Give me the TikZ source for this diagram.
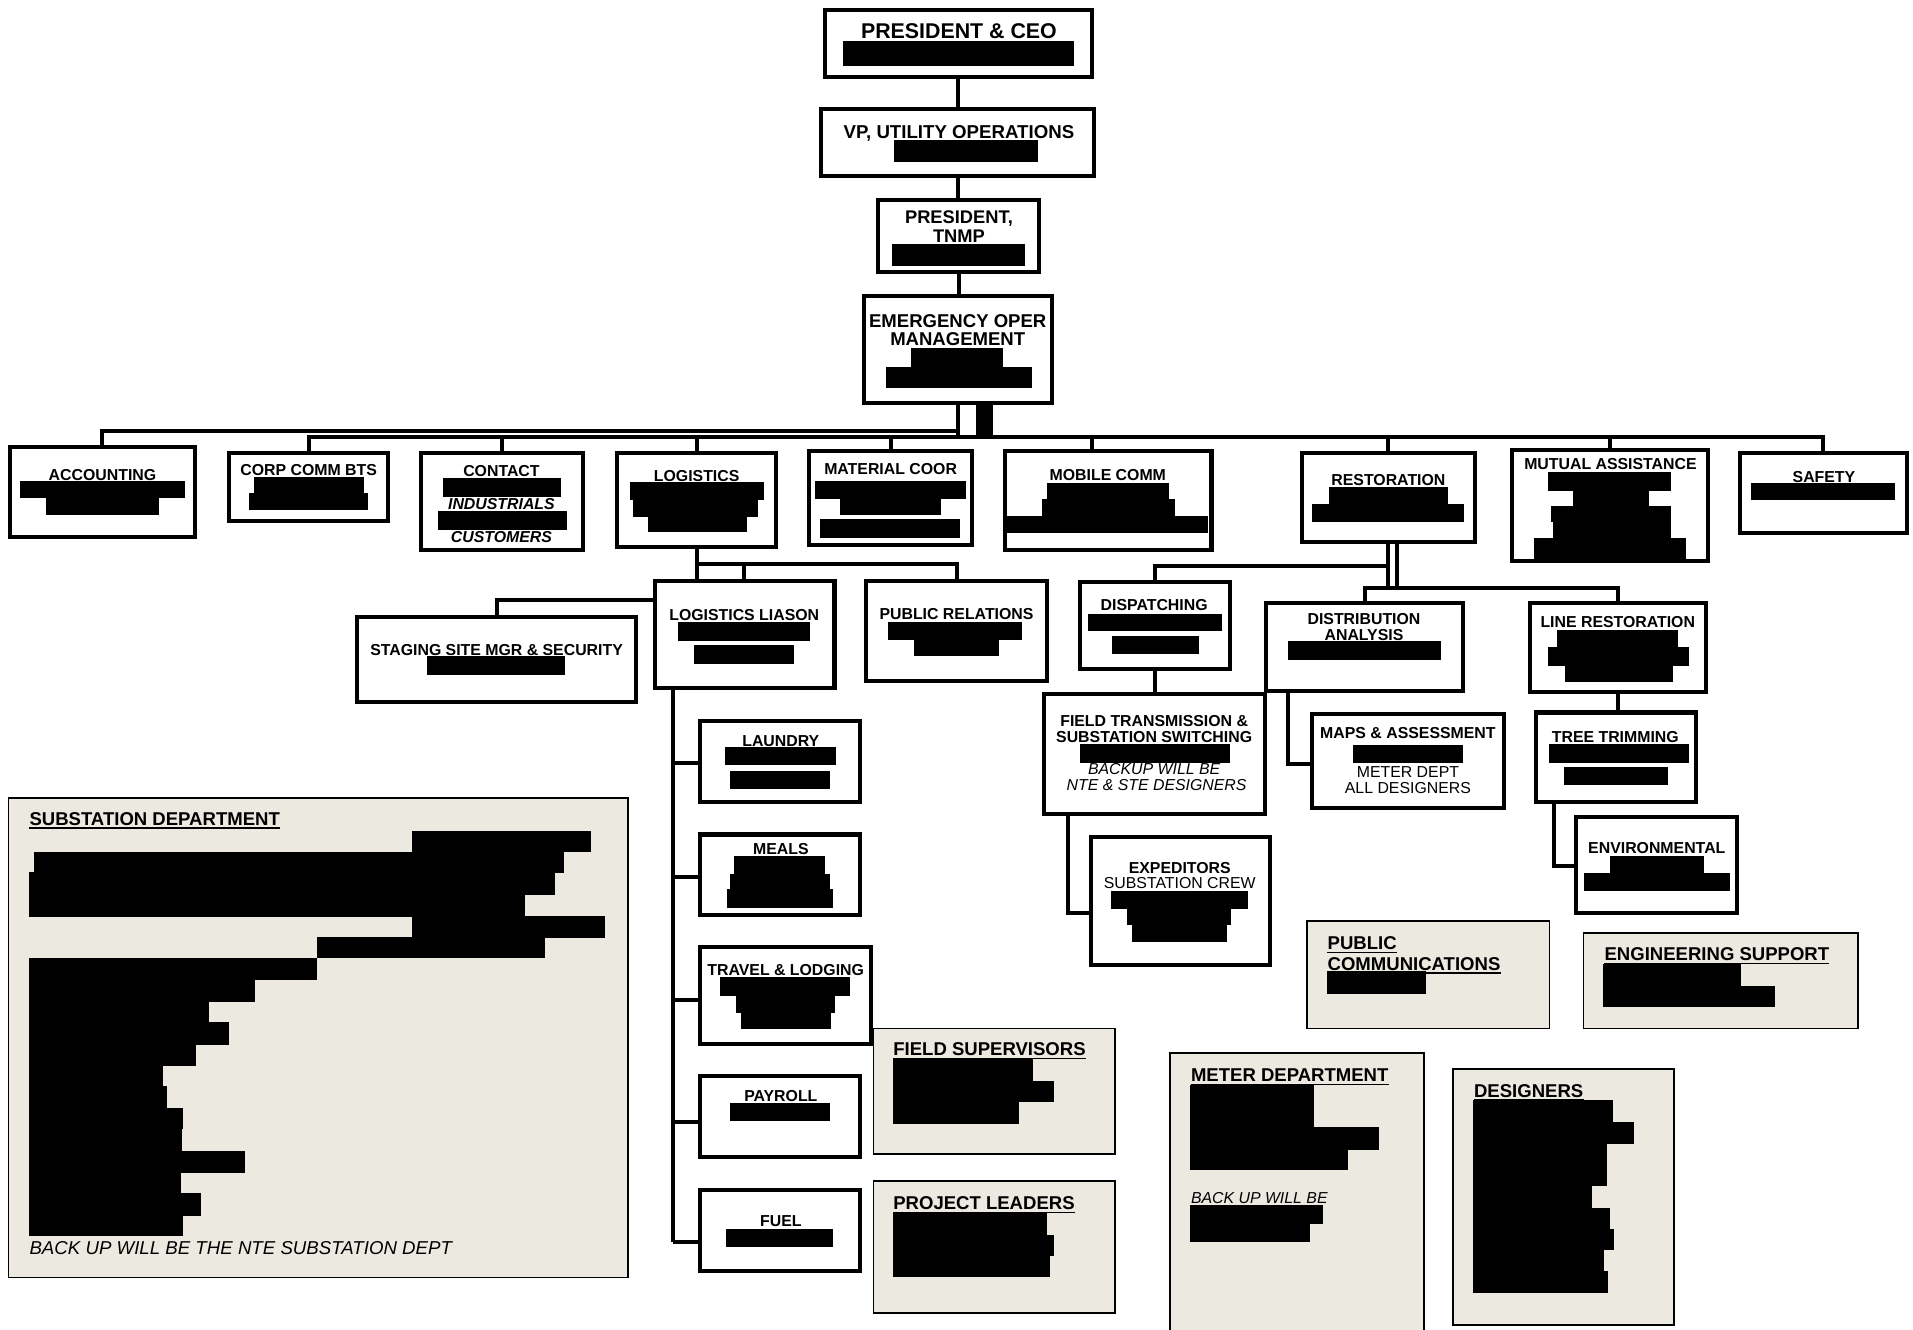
\documentclass[tikz,border=0pt]{standalone}
\usepackage{fontspec}
\setmainfont{Liberation Sans}
\definecolor{gfill}{RGB}{236,233,224}
\tikzset{
 box/.style={draw, line width=3.3pt, fill=white, inner sep=0pt, outer sep=0pt},
 gbox/.style={draw, line width=1.4pt, fill=gfill, inner sep=0pt, outer sep=0pt},
 conn/.style={line width=3.3pt},
 lab/.style={font=\bfseries\fontsize{13}{14}\selectfont, inner sep=0pt, text height=9.3pt, text depth=0pt},
 labi/.style={font=\bfseries\itshape\fontsize{13}{14}\selectfont, inner sep=0pt, text height=9.3pt, text depth=0pt},
 note/.style={font=\itshape\fontsize{13}{14}\selectfont, inner sep=0pt, text height=9.3pt, text depth=0pt},
 plain/.style={font=\fontsize{13}{14}\selectfont, inner sep=0pt, text height=9.3pt, text depth=0pt},
 big/.style={font=\bfseries\fontsize{#1}{#1}\selectfont, inner sep=0pt, text height={0.716*#1*1pt}, text depth=0pt},
 gt/.style={font=\bfseries\fontsize{15.2}{16}\selectfont, inner sep=0pt, text height=10.9pt, text depth=0pt, anchor=west},
 gnote/.style={font=\itshape\fontsize{15.3}{16}\selectfont, inner sep=0pt, text height=11pt, text depth=0pt, anchor=west},
 uline/.style={line width=1.1pt},
}
\newcommand\bx[6][box]{\node[#1, minimum width={(#5-#3)*1pt}, minimum height={(#6-#4)*1pt}] (#2) at ({(#3+#5)/2},{(#4+#6)/2}) {};}
\newcommand\rb[4]{\fill (#1,#2) rectangle (#3,#4);}
\newcommand\gtitle[4]{\node[gt] (#1) at (#2,#3) {#4}; \draw[uline] ([yshift=-2pt]#1.south west) -- ([yshift=-2pt]#1.south east);}
\begin{document}
\begin{tikzpicture}[x=1pt,y=-1pt]
\useasboundingbox (0,0) rectangle (1568,1090);
% ---------- boxes ----------
\bx{ceo}{676}{8}{895}{63}
\bx{vp}{673}{89}{897}{144}
\bx{tnmp}{720}{164}{852}{223}
\bx{eom}{708}{243}{862}{330}
\bx{acc}{8}{366}{160}{440}
\bx{ccb}{188}{371}{318}{427}
\bx{con}{345}{371}{478}{451}
\bx{log}{506}{371}{636}{448}
\bx{mat}{663}{370}{797}{447}
\bx{mob}{824}{370}{993}{451}
\bx{res}{1067}{371}{1209}{444}
\bx{mut}{1239}{369}{1400}{460}
\bx{saf}{1426}{371}{1563}{437}
\bx{lia}{537}{476}{684}{564}
\bx{stg}{293}{506}{521}{575}
\bx{pr}{710}{476}{858}{558}
\bx{lau}{574}{591}{705}{657}
\bx{mea}{574}{684}{705}{750}
\bx{tra}{574}{776}{714}{856}
\bx{pay}{574}{882}{705}{948}
\bx{fue}{574}{975}{705}{1042}
\bx{dis}{885}{477}{1008}{548}
\bx{fts}{856}{569}{1037}{667}
\bx{exp}{894}{686}{1041}{791}
\bx{dan}{1038}{494}{1199}{566}
\bx{map}{1075}{585}{1233}{662}
\bx{lre}{1254}{494}{1398}{567}
\bx{tre}{1259}{584}{1390}{657}
\bx{env}{1292}{670}{1424}{748}
\bx[gbox]{sub}{7}{654}{515}{1047}
\bx[gbox]{fsu}{716}{843}{914}{946}
\bx[gbox]{prl}{716}{968}{914}{1076}
\bx[gbox]{pco}{1071}{755}{1270}{843}
\bx[gbox]{eng}{1298}{765}{1523}{843}
\bx[gbox]{met}{959}{863}{1167}{1100}
\bx[gbox]{des}{1191}{876}{1372}{1086}
% ---------- connectors ----------
\coordinate (b1) at (0,353);
\coordinate (b2) at (0,358);
\draw[conn] (ceo.south) -- (ceo.south |- vp.north);
\draw[conn] (vp.south) -- (vp.south |- tnmp.north);
\draw[conn] (tnmp.south) -- (tnmp.south |- eom.north);
\draw[conn] (eom.south) -- (eom.south |- b2);
\draw[conn] (eom.south |- b1) -| (acc.north);
\draw[conn] (ccb.north) |- (saf.north |- b2) -- (saf.north);
\foreach \n in {con,log,mat,res,mut} \draw[conn] (\n.north) -- (\n.north |- b2);
\coordinate (mobdrop) at (895,370);
\draw[conn] (mobdrop) -- (mobdrop |- b2);
\fill (800,330) rectangle (814,358);
% logistics
\coordinate (b3) at (0,462);
\draw[conn] (log.south) -- (log.south |- lia.north);
\draw[conn] (log.south |- b3) -| (pr.north);
\coordinate (lj) at (610,462);
\draw[conn] (lj) -- (lj |- lia.north);
\coordinate (sj) at (0,492);
\draw[conn] (lia.west |- sj) -| (stg.north);
\coordinate (lb1) at (552,625);
\coordinate (lb2) at (552,719);
\coordinate (lb3) at (552,820);
\coordinate (lb4) at (552,920);
\coordinate (lb5) at (552,1018);
\draw[conn] (lia.south -| lb1) -- (lb5);
\draw[conn] (lb1) -- (lb1 -| lau.west);
\draw[conn] (lb2) -- (lb2 -| mea.west);
\draw[conn] (lb3) -- (lb3 -| tra.west);
\draw[conn] (lb4) -- (lb4 -| pay.west);
\draw[conn] (lb5) -- (lb5 -| fue.west);
% restoration
\coordinate (b4) at (0,464);
\coordinate (b5) at (0,482);
\draw[conn] (res.south) -- (res.south |- b5);
\coordinate (rr) at (1145,444);
\draw[conn] (rr) -- (rr |- b5);
\draw[conn] (res.south |- b4) -| (dis.north);
\draw[conn] (dan.north) |- (lre.north |- b5) -- (lre.north);
\draw[conn] (dis.south) -- (dis.south |- fts.north);
\coordinate (fe) at (875,748);
\draw[conn] (fts.south -| fe) -- (fe) -- (fe -| exp.west);
\coordinate (dm) at (1056,626);
\draw[conn] (dan.south -| dm) -- (dm) -- (dm -| map.west);
\draw[conn] (lre.south) -- (lre.south |- tre.north);
\coordinate (te) at (1274,710);
\draw[conn] (tre.south -| te) -- (te) -- (te -| env.west);
% ---------- texts ----------
\node[big=17.5] (tceo) at (786,25) {PRESIDENT \& CEO};
\node[big=15.3] (tvp) at (786,108) {VP, UTILITY OPERATIONS};
\node[big=15] (ttn1) at (786,178) {PRESIDENT,};
\node[big=15] (ttn2) at (786,193) {TNMP};
\node[big=15.2] (teo1) at (785,263) {EMERGENCY OPER};
\node[big=15.2] (teo2) at (785,278) {MANAGEMENT};
\node[lab] (tacc) at (84,389) {ACCOUNTING};
\node[lab] (tccb) at (253,385) {CORP COMM BTS};
\node[lab] (tcon1) at (411,386) {CONTACT};
\node[labi] (tcon2) at (411,413) {INDUSTRIALS};
\node[labi] (tcon3) at (411,440) {CUSTOMERS};
\node[lab] (tlog) at (571,390) {LOGISTICS};
\node[lab] (tmat) at (730,384) {MATERIAL COOR};
\node[lab] (tmob) at (908,389) {MOBILE COMM};
\node[lab] (tres) at (1138,393) {RESTORATION};
\node[lab] (tmut) at (1320,380) {MUTUAL ASSISTANCE};
\node[lab] (tsaf) at (1495,391) {SAFETY};
\node[lab] (tlia) at (610,504) {LOGISTICS LIASON};
\node[lab] (tstg) at (407,533) {STAGING SITE MGR \& SECURITY};
\node[lab] (tpr) at (784,503) {PUBLIC RELATIONS};
\node[lab] (tlau) at (640,607) {LAUNDRY};
\node[lab] (tmea) at (640,696) {MEALS};
\node[lab] (ttra) at (644,795) {TRAVEL \& LODGING};
\node[lab] (tpay) at (640,898) {PAYROLL};
\node[lab] (tfue) at (640,1001) {FUEL};
\node[lab] (tdis) at (946,496) {DISPATCHING};
\node[lab] (tfts1) at (946,591) {FIELD TRANSMISSION \&};
\node[lab] (tfts2) at (946,604) {SUBSTATION SWITCHING};
\node[note] (tfts3) at (946,630) {BACKUP WILL BE};
\node[note] (tfts4) at (948,643) {NTE \& STE DESIGNERS};
\node[lab] (texp1) at (967,711) {EXPEDITORS};
\node[plain] (texp2) at (967,724) {SUBSTATION CREW};
\node[lab] (tdan1) at (1118,507) {DISTRIBUTION};
\node[lab] (tdan2) at (1118,520) {ANALYSIS};
\node[lab] (tmap1) at (1154,601) {MAPS \& ASSESSMENT};
\node[plain] (tmap2) at (1154,633) {METER DEPT};
\node[plain] (tmap3) at (1154,646) {ALL DESIGNERS};
\node[lab] (tlre) at (1326,510) {LINE RESTORATION};
\node[lab] (ttre) at (1324,604) {TREE TRIMMING};
\node[lab] (tenv) at (1358,695) {ENVIRONMENTAL};
\gtitle{tsub}{24}{671}{SUBSTATION DEPARTMENT}
\node[gnote] (tsubn) at (24,1023) {BACK UP WILL BE THE NTE SUBSTATION DEPT};
\gtitle{tfsu}{732}{860}{FIELD SUPERVISORS}
\gtitle{tprl}{732}{986}{PROJECT LEADERS}
\gtitle{tpco1}{1088}{773}{PUBLIC}
\gtitle{tpco2}{1088}{790}{COMMUNICATIONS}
\gtitle{teng}{1315}{782}{ENGINEERING SUPPORT}
\gtitle{tmet}{976}{881}{METER DEPARTMENT}
\node[note,anchor=west] (tmetn) at (976,982) {BACK UP WILL BE};
\gtitle{tdes}{1208}{894}{DESIGNERS}
% ---------- redaction bars ----------
\rb{691}{34}{880}{54}
\rb{733}{115}{851}{133}
\rb{731}{200}{840}{218}
\rb{747}{285}{822}{302}\rb{726}{301}{846}{318}
\rb{16}{394}{152}{408.5}\rb{38}{408}{130}{422}
\rb{208}{391}{298}{404.5}\rb{204}{404}{302}{418}
\rb{363}{392}{460}{407}\rb{359}{419}{465}{434}
\rb{516}{395}{626}{410}\rb{519}{409.5}{621}{424}\rb{531}{423.5}{612}{436}
\rb{668}{394.5}{792}{409}\rb{688.5}{408.5}{771.5}{422.5}\rb{672.5}{425.5}{787}{441}
\rb{858}{396}{958}{409.5}\rb{854}{409}{963}{423.5}\rb{825}{423}{990}{437}
\rb{1089}{399}{1187}{413.5}\rb{1075}{413}{1200}{428}
\rb{1269}{387}{1370}{402.5}\rb{1289}{402}{1352}{415.5}\rb{1271}{415}{1370}{427.5}\rb{1273}{427}{1370}{441.5}\rb{1257}{441}{1382}{458}
\rb{1435}{396}{1553}{410}
\rb{556}{510}{664}{525}\rb{569}{529}{651}{544}
\rb{350}{538}{463}{553}
\rb{728}{509.5}{838}{524.5}\rb{749}{524}{819}{538}
\rb{594}{612}{685}{627}\rb{598}{632}{680}{647}
\rb{602}{702}{676}{716.5}\rb{598}{716}{680}{729.5}\rb{595.5}{729}{683}{744}
\rb{590.5}{800.5}{696.5}{816.5}\rb{603}{816}{684.5}{830}\rb{607}{829.5}{681}{843.5}
\rb{598}{904}{680}{919}
\rb{595}{1007}{683}{1022}
\rb{891.5}{503}{1002}{517.5}\rb{911.5}{521}{982.5}{536}
\rb{885}{610}{1008}{625}
\rb{911}{730}{1023}{745}\rb{924}{744.5}{1009}{758.5}\rb{927.5}{758}{1006}{772}
\rb{1056}{525}{1181}{541}
\rb{1109}{611}{1199.5}{625.5}
\rb{1276}{516}{1375}{530.5}\rb{1269}{530}{1384}{545.5}\rb{1283}{545}{1371}{559}
\rb{1270}{610}{1384}{625.5}\rb{1282}{628.5}{1367}{643.5}
\rb{1320}{701.5}{1397}{716}\rb{1298.5}{715.5}{1418}{730}
\rb{732}{867}{847}{886.5}\rb{732}{886}{864}{903.5}\rb{732}{903}{835}{921}
\rb{732}{993}{858}{1012.5}\rb{732}{1012}{864}{1029.5}\rb{732}{1029}{861}{1047}
\rb{1088}{796}{1169}{815}
\rb{1314}{790}{1427}{808.5}\rb{1314}{808}{1455}{825}
\rb{975}{889}{1077}{924.5}\rb{975}{924}{1130}{942.5}\rb{975}{942}{1105}{959}
\rb{975}{988}{1084}{1003.5}\rb{975}{1003}{1074}{1018}
\rb{1207}{902}{1322}{920.5}\rb{1207}{920}{1339}{938}\rb{1207}{937.5}{1317}{972.5}\rb{1207}{972}{1305}{990.5}
\rb{1207}{990}{1320}{1007.5}\rb{1207}{1007}{1323}{1024.5}\rb{1207}{1024}{1315}{1042}\rb{1207}{1041.5}{1318}{1060}
\rb{338}{681}{484}{698.5}
\rb{28}{698}{462}{715.5}
\rb{24}{715}{455}{733.5}
\rb{24}{733}{430}{751.5}
\rb{338}{751}{496}{768.5}
\rb{260}{768}{447}{785.5}
\rb{24}{785}{260}{803.5}
\rb{24}{803}{209}{821.5}
\rb{24}{821}{171}{838.5}
\rb{24}{838}{188}{856.5}
\rb{24}{856}{161}{873.5}
\rb{24}{873}{134}{890.5}
\rb{24}{890}{137}{908.5}
\rb{24}{908}{150}{925.5}
\rb{24}{925}{149}{943.5}
\rb{24}{943}{201}{961.5}
\rb{24}{961}{148}{978.5}
\rb{24}{978}{165}{996.5}
\rb{24}{996}{150}{1013}
\end{tikzpicture}
\end{document}
